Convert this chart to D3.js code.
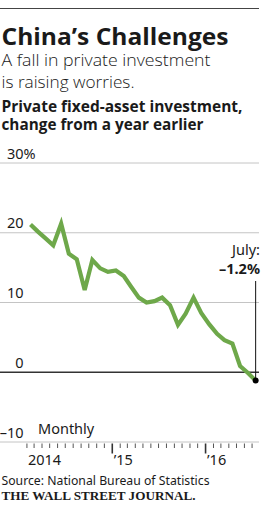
<!DOCTYPE html>
<html>
<head>
<meta charset="utf-8">
<script src="https://cdn.jsdelivr.net/npm/d3@7"></script>
<style>
  html, body { margin: 0; padding: 0; background: #fff; }
  svg { display: block; }
  text { fill: #1a1a1a; }
</style>
</head>
<body>
<div id="chart"></div>
<script>
// 1 - Données
const months = [
  "2014-02", "2014-03", "2014-04", "2014-05", "2014-06", "2014-07", "2014-08", "2014-09", "2014-10", "2014-11", "2014-12",
  "2015-01", "2015-02", "2015-03", "2015-04", "2015-05", "2015-06", "2015-07", "2015-08", "2015-09", "2015-10", "2015-11", "2015-12",
  "2016-01", "2016-02", "2016-03", "2016-04", "2016-05", "2016-06", "2016-07"
];
const values = [
  21.2, 20.2, 19.2, 18.2, 21.3, 17.0, 16.2, 11.8, 16.1, 14.9, 14.4,
  14.6, 13.8, 12.3, 10.7, 10.0, 10.2, 10.7, 9.6, 6.8, 8.4, 10.7, 8.5,
  6.9, 5.5, 4.6, 4.1, 0.9, -0.1, -1.2
];
const yTicks = [30, 20, 10, 0, -10];
const yearLabels = ["2014", "\u201915", "\u201916"];
const yearDates = ["2014-02-01", "2015-01-01", "2016-01-01"];

const parseMonth = d3.timeParse("%Y-%m");
const data = months.map((m, i) => ({
  date: d3.timeDay.offset(parseMonth(m), 14), // milieu du mois
  value: values[i]
}));

// 2 - Dimensions et échelles
const W = 262, H = 506;
const x = d3.scaleTime()
  .domain([new Date(2014, 0, 1), new Date(2016, 7, 1)])
  .range([19, 260]);
const y = d3.scaleLinear()
  .domain([-10, 30])
  .range([442, 163]);

const svg = d3.select("#chart")
  .append("svg")
  .attr("width", W)
  .attr("height", H);

svg.append("rect").attr("width", W).attr("height", H).attr("fill", "#fff");

// 3 - En-tête
svg.append("line")
  .attr("x1", 0).attr("x2", 259)
  .attr("y1", 8.5).attr("y2", 8.5)
  .attr("stroke", "#444").attr("stroke-width", 1);

const head = [
  { t: "China\u2019s Challenges", y: 45, size: 23, w: 700, len: 227 },
  { t: "A fall in private investment", y: 66, size: 16.5, w: 300, len: 209 },
  { t: "is raising worries.", y: 88, size: 16.5, w: 300, len: 133 },
  { t: "Private fixed-asset investment,", y: 111.5, size: 15.5, w: 700, len: 241 },
  { t: "change from a year earlier", y: 130, size: 15.5, w: 700, len: 202 }
];
svg.selectAll("text.head")
  .data(head)
  .enter()
  .append("text")
  .attr("class", "head")
  .attr("x", 1.5)
  .attr("y", d => d.y)
  .attr("font-family", "'Open Sans', sans-serif")
  .attr("font-size", d => d.size)
  .attr("font-weight", d => d.w)
  .attr("textLength", d => d.len)
  .attr("lengthAdjust", "spacingAndGlyphs")
  .text(d => d.t);

// 4 - Grille et axe Y
svg.selectAll("line.grid")
  .data(yTicks)
  .enter()
  .append("line")
  .attr("class", "grid")
  .attr("x1", 0).attr("x2", 259)
  .attr("y1", d => y(d)).attr("y2", d => y(d))
  .attr("stroke", d => d === 0 ? "#333" : "#c4c4c4")
  .attr("stroke-width", d => d === 0 ? 1.5 : 1);

svg.selectAll("text.ylab")
  .data(yTicks)
  .enter()
  .append("text")
  .attr("class", "ylab")
  .attr("x", 23.5)
  .attr("y", d => y(d) - 4.5)
  .attr("text-anchor", "end")
  .attr("font-family", "'Noto Sans', sans-serif")
  .attr("font-size", 14.5)
  .text(d => d < 0 ? "\u2013" + Math.abs(d) : d);

// le "%" dépasse à droite du 30
svg.append("text")
  .attr("x", 23.5)
  .attr("y", y(30) - 4.5)
  .attr("font-family", "'Noto Sans', sans-serif")
  .attr("font-size", 14.5)
  .text("%");

svg.append("text")
  .attr("x", 38)
  .attr("y", y(-10) - 8)
  .attr("font-family", "'Noto Sans', sans-serif")
  .attr("font-size", 14.5)
  .text("Monthly");

// 5 - Axe X : petits traits par mois, grands traits par année
const monthTicks = d3.timeMonth.range(new Date(2014, 1, 1), new Date(2016, 7, 1));
svg.selectAll("line.xtick")
  .data(monthTicks)
  .enter()
  .append("line")
  .attr("class", "xtick")
  .attr("x1", d => x(d)).attr("x2", d => x(d))
  .attr("y1", y(-10) + 1.5)
  .attr("y2", d => d.getMonth() === 0 ? y(-10) + 11.5 : y(-10) + 6)
  .attr("stroke", d => d.getMonth() === 0 ? "#333" : "#555")
  .attr("stroke-width", d => d.getMonth() === 0 ? 1.6 : 1);

svg.selectAll("text.xlab")
  .data(yearLabels)
  .enter()
  .append("text")
  .attr("class", "xlab")
  .attr("x", (d, i) => x(new Date(yearDates[i])) + (i === 0 ? 1 : 1.5))
  .attr("y", 465)
  .attr("font-family", "'Noto Sans', sans-serif")
  .attr("font-size", 14.5)
  .text(d => d);

// 6 - Courbe
const line = d3.line()
  .x(d => x(d.date))
  .y(d => y(d.value));

svg.append("path")
  .datum(data)
  .attr("fill", "none")
  .attr("stroke", "#6ea84a")
  .attr("stroke-width", 4.2)
  .attr("stroke-linejoin", "miter")
  .attr("d", line);

// 7 - Annotation juillet
const last = data[data.length - 1];
svg.append("line")
  .attr("x1", x(last.date)).attr("x2", x(last.date))
  .attr("y1", 281).attr("y2", y(last.value))
  .attr("stroke", "#111").attr("stroke-width", 1);

svg.append("circle")
  .attr("cx", x(last.date))
  .attr("cy", y(last.value))
  .attr("r", 3)
  .attr("fill", "#000");

svg.append("text")
  .attr("x", 260).attr("y", 255)
  .attr("text-anchor", "end")
  .attr("font-family", "'Noto Sans', sans-serif")
  .attr("font-size", 14.5)
  .text("July:");

svg.append("text")
  .attr("x", 260).attr("y", 273.5)
  .attr("text-anchor", "end")
  .attr("font-family", "'Noto Sans', sans-serif")
  .attr("font-size", 14.5)
  .attr("font-weight", 700)
  .text("\u2013" + Math.abs(last.value).toFixed(1) + "%");

// 8 - Source et signature
svg.append("text")
  .attr("x", 1.5).attr("y", 485)
  .attr("font-family", "'Noto Sans', sans-serif")
  .attr("font-size", 13)
  .attr("textLength", 208)
  .attr("lengthAdjust", "spacingAndGlyphs")
  .text("Source: National Bureau of Statistics");

svg.append("text")
  .attr("x", 1.5).attr("y", 500)
  .attr("font-family", "'Liberation Serif', serif")
  .attr("font-size", 13)
  .attr("font-weight", 700)
  .attr("textLength", 194)
  .attr("lengthAdjust", "spacingAndGlyphs")
  .text("THE WALL STREET JOURNAL.");
</script>
</body>
</html>
